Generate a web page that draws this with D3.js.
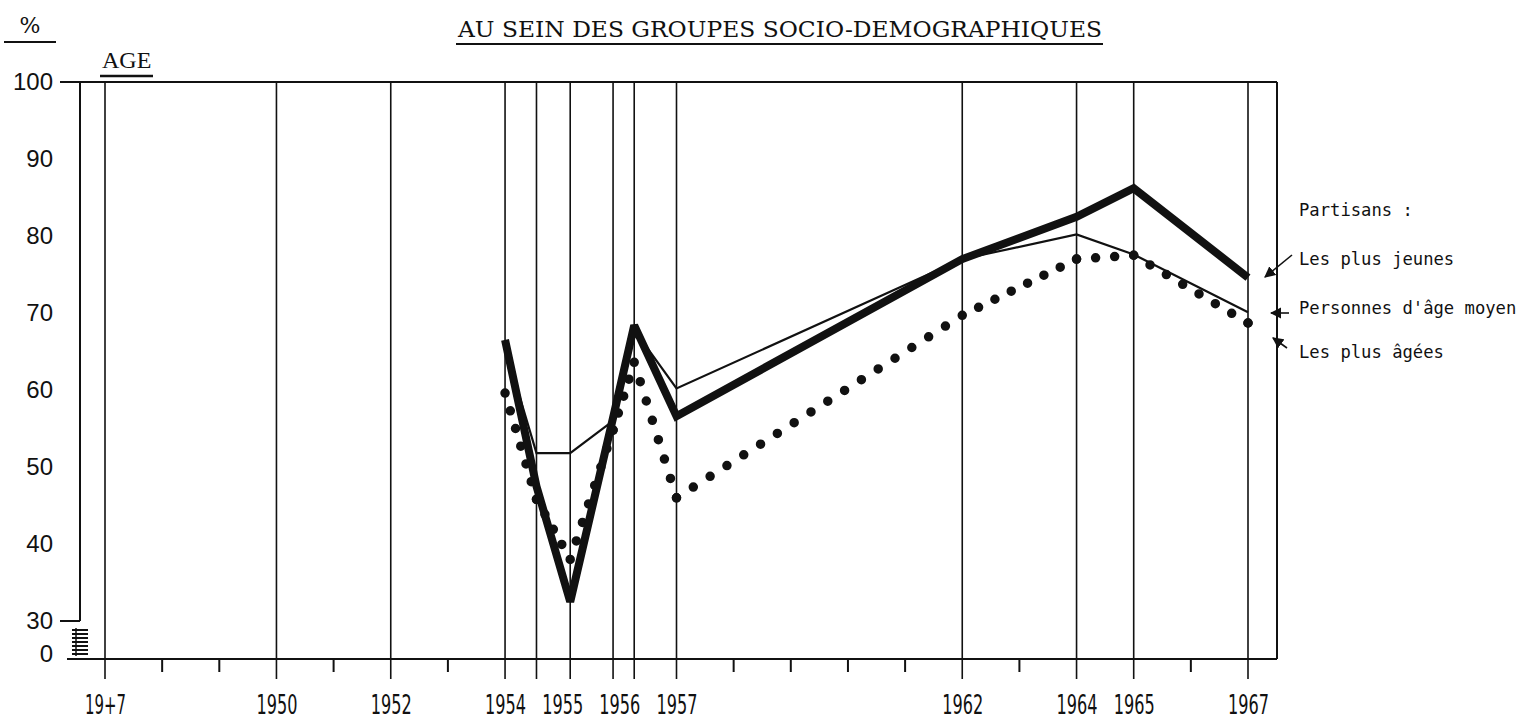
<!DOCTYPE html>
<html>
<head>
<meta charset="utf-8">
<script src="https://cdn.jsdelivr.net/npm/d3@7"></script>
<style>
  html, body { margin: 0; padding: 0; background: #fff; }
  svg { display: block; }
</style>
</head>
<body>
<div id="chart"></div>
<script>
// survey dates (fractional years) and % of partisans per age group
var surveyDates = [1954.0, 1954.55, 1955.14, 1955.89, 1956.26, 1957.0, 1962.0, 1964.0, 1965.0, 1967.0];
var plusJeunes = [66.5, 47.5, 32.5, 56.4, 68.4, 56.6, 77.0, 82.5, 86.2, 74.6];
var ageMoyen = [65.5, 51.8, 51.8, 56.0, 67.8, 60.2, 77.0, 80.2, 77.6, 70.1];
var plusAgees = [59.6, 45.8, 38.0, 54.8, 63.6, 46.0, 69.7, 77.0, 77.5, 68.7];

var yTicks = [100, 90, 80, 70, 60, 50, 40, 30];
var labelYears = [1947, 1950, 1952, 1954, 1955, 1956, 1957, 1962, 1964, 1965, 1967];
var labelTexts = ['19+7', '1950', '1952', '1954', '1955', '1956', '1957', '1962', '1964', '1965', '1967'];
var fullLineYears = [1947, 1950, 1952];
var minorYears = [1948, 1949, 1951, 1953, 1958, 1959, 1960, 1961, 1963, 1966];

var title = 'AU SEIN DES GROUPES SOCIO-DEMOGRAPHIQUES';
var legendTitle = 'Partisans :';
var legendNames = ['Les plus jeunes', "Personnes d'âge moyen", 'Les plus âgées'];

(function () {
  var width = 1528, height = 722;
  var top = 82, bottom = 659, left = 80, right = 1277;

  var svg = d3.select('#chart').append('svg')
    .attr('width', width)
    .attr('height', height)
    .attr('viewBox', [0, 0, width, height]);

  var x = d3.scaleLinear().domain([1947, 1967]).range([105, 1248]);
  var y = d3.scaleLinear().domain([30, 100]).range([621, top]);

  var ink = '#111';

  // **********    Frame    ********** //
  var frame = svg.append('g').attr('stroke', ink).attr('fill', 'none');
  frame.append('line').attr('x1', 60).attr('x2', right).attr('y1', top).attr('y2', top).attr('stroke-width', 2);
  frame.append('line').attr('x1', right).attr('x2', right).attr('y1', top).attr('y2', bottom).attr('stroke-width', 2);
  frame.append('line').attr('x1', 67).attr('x2', right).attr('y1', bottom).attr('y2', bottom).attr('stroke-width', 2);
  frame.append('line').attr('x1', left).attr('x2', left).attr('y1', top).attr('y2', y(30)).attr('stroke-width', 2);
  frame.append('line').attr('x1', 60).attr('x2', left).attr('y1', y(30)).attr('y2', y(30)).attr('stroke-width', 2);

  // axis break hatch between 30 and 0
  d3.range(7).forEach(function (i) {
    frame.append('line')
      .attr('x1', 72).attr('x2', 88)
      .attr('y1', 630 + i * 4).attr('y2', 630 + i * 4)
      .attr('stroke-width', 2);
  });
  frame.append('line').attr('x1', 76).attr('x2', 76).attr('y1', 628).attr('y2', 656).attr('stroke-width', 1.5);

  // vertical lines: reference years and survey dates
  var verticals = fullLineYears.concat(surveyDates);
  svg.append('g').selectAll('line')
    .data(verticals)
    .join('line')
    .attr('x1', function (d) { return x(d); })
    .attr('x2', function (d) { return x(d); })
    .attr('y1', top)
    .attr('y2', 679)
    .attr('stroke', ink)
    .attr('stroke-width', 1.6);

  svg.append('g').selectAll('line')
    .data(minorYears)
    .join('line')
    .attr('x1', function (d) { return x(d); })
    .attr('x2', function (d) { return x(d); })
    .attr('y1', bottom)
    .attr('y2', 672)
    .attr('stroke', ink)
    .attr('stroke-width', 2);

  // **********    Axis labels    ********** //
  svg.append('g').selectAll('text')
    .data(yTicks)
    .join('text')
    .attr('x', 53)
    .attr('y', function (d) { return y(d) + 8; })
    .attr('text-anchor', 'end')
    .attr('font-family', 'Liberation Sans, Arial, sans-serif')
    .attr('font-size', 24)
    .attr('fill', ink)
    .text(function (d) { return d; });

  svg.append('text')
    .attr('x', 53).attr('y', 662)
    .attr('text-anchor', 'end')
    .attr('font-family', 'Liberation Sans, Arial, sans-serif')
    .attr('font-size', 24)
    .attr('fill', ink)
    .text('0');

  svg.append('g').selectAll('text')
    .data(labelYears)
    .join('text')
    .attr('x', function (d) { return x(d) - 20; })
    .attr('y', 714)
    .attr('font-family', 'DejaVu Sans Condensed, DejaVu Sans, sans-serif')
    .attr('font-size', 27)
    .attr('textLength', 41)
    .attr('lengthAdjust', 'spacingAndGlyphs')
    .attr('fill', ink)
    .text(function (d, i) { return labelTexts[i]; });

  svg.append('text')
    .attr('x', 30).attr('y', 33)
    .attr('text-anchor', 'middle')
    .attr('font-family', 'DejaVu Serif, serif')
    .attr('font-size', 22)
    .attr('fill', ink)
    .text('%');
  svg.append('line').attr('x1', 4).attr('x2', 56).attr('y1', 42).attr('y2', 42).attr('stroke', ink).attr('stroke-width', 2);

  svg.append('text')
    .attr('x', 102).attr('y', 68)
    .attr('font-family', 'Liberation Serif, serif')
    .attr('font-size', 24)
    .attr('fill', ink)
    .text('AGE');
  svg.append('line').attr('x1', 100).attr('x2', 153).attr('y1', 76).attr('y2', 76).attr('stroke', ink).attr('stroke-width', 2.5);

  // title
  svg.append('text')
    .attr('x', 458).attr('y', 37)
    .attr('font-family', 'DejaVu Serif, serif')
    .attr('font-size', 23)
    .attr('textLength', 644)
    .attr('lengthAdjust', 'spacingAndGlyphs')
    .attr('fill', ink)
    .text(title);
  svg.append('line').attr('x1', 456).attr('x2', 1103).attr('y1', 44).attr('y2', 44).attr('stroke', ink).attr('stroke-width', 2);

  // **********    Series    ********** //
  var line = d3.line()
    .x(function (d) { return x(d[0]); })
    .y(function (d) { return y(d[1]); });

  function pairs(values) {
    return surveyDates.map(function (d, i) { return [d, values[i]]; });
  }

  svg.append('path')
    .datum(pairs(ageMoyen))
    .attr('fill', 'none')
    .attr('stroke', ink)
    .attr('stroke-width', 2.2)
    .attr('d', line);

  // dotted series: one path per segment so that a dot falls on every survey
  var agees = pairs(plusAgees);
  var dots = svg.append('g');
  d3.pairs(agees).forEach(function (seg, i) {
    var p = dots.append('path')
      .datum(seg)
      .attr('fill', 'none')
      .attr('stroke', ink)
      .attr('stroke-width', 9.5)
      .attr('stroke-linecap', 'round')
      .attr('d', line);
    var len = p.node().getTotalLength();
    var n = Math.max(1, Math.round(len / 19.5));
    var gap = len / n;
    // skip the first dot of later segments (already drawn at previous end)
    p.attr('stroke-dasharray', '0,' + gap)
      .attr('stroke-dashoffset', i === 0 ? 0 : -gap);
    if (i === agees.length - 2) {
      dots.append('circle')
        .attr('cx', x(seg[1][0]))
        .attr('cy', y(seg[1][1]))
        .attr('r', 4.75)
        .attr('fill', ink);
    }
  });

  svg.append('path')
    .datum(pairs(plusJeunes))
    .attr('fill', 'none')
    .attr('stroke', ink)
    .attr('stroke-width', 8)
    .attr('stroke-linejoin', 'miter')
    .attr('stroke-miterlimit', 3)
    .attr('d', line);

  // **********    Legend    ********** //
  var lg = svg.append('g')
    .attr('font-family', 'DejaVu Sans Mono, monospace')
    .attr('font-size', 17.2)
    .attr('fill', ink);
  lg.append('text').attr('x', 1299).attr('y', 216).text(legendTitle);
  var legendY = [265, 314, 358];
  lg.selectAll('text.name')
    .data(legendNames)
    .join('text')
    .attr('class', 'name')
    .attr('x', 1299)
    .attr('y', function (d, i) { return legendY[i]; })
    .text(function (d) { return d; });

  svg.append('defs').append('marker')
    .attr('id', 'head')
    .attr('viewBox', '0 0 10 10')
    .attr('refX', 9).attr('refY', 5)
    .attr('markerWidth', 7).attr('markerHeight', 7)
    .attr('orient', 'auto')
    .append('path')
    .attr('d', 'M0,0L10,5L0,10z')
    .attr('fill', ink);

  var arrows = [[1292, 255, 1265, 277], [1289, 313, 1271, 313], [1287, 348, 1273, 338]];
  svg.append('g').selectAll('line')
    .data(arrows)
    .join('line')
    .attr('x1', function (d) { return d[0]; })
    .attr('y1', function (d) { return d[1]; })
    .attr('x2', function (d) { return d[2]; })
    .attr('y2', function (d) { return d[3]; })
    .attr('stroke', ink)
    .attr('stroke-width', 1.6)
    .attr('marker-end', 'url(#head)');
})();
</script>
</body>
</html>
